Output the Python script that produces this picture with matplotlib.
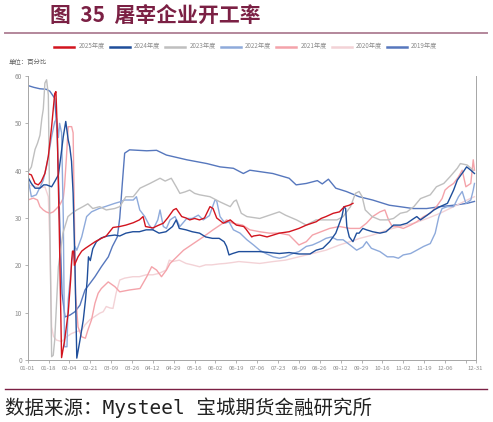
import matplotlib

matplotlib.use("Agg")
import matplotlib.pyplot as plt
from matplotlib.lines import Line2D

plt.rcParams["font.family"] = ["Noto Sans CJK SC", "DejaVu Sans"]

# ─── Data (day of year, starting 01-01 = 0; values in %) ────────────────────

TICK_DAYS = [0, 17, 34, 51, 68, 85, 102, 119, 136, 153, 170, 187, 204, 221,
             238, 255, 272, 289, 306, 323, 340, 357, 365]
TICK_LABELS = ["01-01", "01-18", "02-04", "02-21", "03-09", "03-26", "04-12",
               "04-29", "05-16", "06-02", "06-19", "07-06", "07-23", "08-09",
               "08-26", "09-12", "09-29", "10-16", "11-02", "11-19", "12-06",
               "", "12-31"]

days_2025 = [0, 3, 6, 8.6, 11, 14, 16.8, 19.5, 22, 23, 24, 25.7, 27.6, 30, 33, 35,
             35.8, 36.5, 37.5, 38, 41, 44, 47, 51, 55, 60, 64, 69.5, 75, 80, 86,
             91, 94, 96, 102, 106, 110.5, 114, 118.7, 121, 125.5, 129, 132, 136, 140,
             144, 148.5, 151, 154, 159.4, 165, 170, 176, 178, 182.5, 184, 189, 195,
             205, 213, 221, 227, 235, 239, 243, 249, 254, 258, 262, 265]
vals_2025 = [39.4, 39.1, 37.3, 37, 37.7, 39.4, 43, 49.3, 56.3, 56.7, 49.3, 28, 0.5, 4, 10, 17,
             21, 23, 23, 20, 21.8, 23, 23.6, 24.3, 25, 25.7, 26.2, 28, 28.2, 28.5, 29,
             29.6, 30.3, 28.2, 27.9, 28.4, 28.9, 30, 31.7, 32, 30.3, 30, 29.6, 29.9, 29.6,
             30, 32.4, 32, 30, 28.9, 29.6, 28.5, 28.2, 27.6, 26, 26.2, 26.4, 26,
             26.8, 27.1, 27.8, 28.5, 29.2, 29.9, 30.3, 31, 31.3, 32.4, 32.7, 33.1]

days_2024 = [0, 3, 6, 10, 13, 15.4, 19.5, 22, 25, 27, 29, 31, 33, 34.3, 35.7, 37, 38.4,
             40, 42.6, 45.3, 47, 48.5, 49.5, 51, 53, 56, 60, 65, 71, 75, 80, 85.7,
             91, 96.5, 102, 107, 112.7, 118, 121, 123.5, 129, 134, 140, 145, 150.5,
             156, 160, 162, 164, 167, 172, 181, 189, 197, 205, 213, 221, 230, 235,
             240.5, 246, 251, 256, 257.6, 259, 260, 262, 265, 268, 270, 273, 276,
             281, 287, 292, 298, 303.6, 309, 314.6, 317, 320, 325.5, 331, 336, 342,
             347, 350, 353, 355, 357.6, 361, 364]
vals_2024 = [38.7, 37.3, 36.3, 36.3, 37, 37, 36.6, 37.7, 39.1, 43, 47.2, 50.4, 46.5, 45, 42,
             35.2, 21, 0.4, 4.2, 8.5, 12.5, 17, 21.8, 21, 23.5, 25, 25.8, 26.2, 26.4,
             26.2, 26.8, 27.1, 27.1, 27.5, 27.5, 26.8, 27.1, 28.2, 29.6, 27.8, 27.5,
             27.1, 26.8, 26, 25.7, 25.7, 25, 24, 22.2, 22.5, 22.9, 22.9, 22.9, 22.7,
             22.5, 22.7, 22.4, 22.4, 23.2, 23.6, 25, 26.8, 30.3, 32.4, 32, 28.2, 26,
             25, 26.8, 26.8, 27.8, 27.5, 27.1, 26.8, 27.1, 28.5, 28.5, 28.9, 29.9,
             30.3, 29.6, 30.6, 31.7, 32.4, 33.1, 35.9, 38, 39.1, 39.8, 40.8, 40.1, 39.4]

days_2023 = [0, 3, 6, 8, 10, 11.5, 12.7, 14, 15.4, 16.8, 18, 19.5, 20.8, 22, 25, 28.7,
             32.8, 36, 40, 45, 49, 53, 58.6, 64, 70.8, 75, 80, 86, 91.5, 99.6, 107.8,
             112, 117, 121, 124, 128, 132, 136, 140, 148.5, 156.7, 165, 168, 170,
             174, 178.6, 189, 197, 205, 210, 219, 227, 235, 243, 252, 257, 263, 267,
             270, 272.5, 275, 280.6, 287, 293, 298, 303.6, 309, 314.6, 320, 328,
             333, 339, 344, 350, 352.5, 358, 363]
vals_2023 = [39.5, 40.8, 44.5, 45.8, 47.5, 51, 53, 58.5, 59.2, 56, 30, 0.7, 1, 4.2, 19.7,
             26.8, 30.3, 31, 31.7, 32.4, 33, 32, 32.4, 31.7, 32, 32.4, 34.5, 34.5,
             36.3, 37.3, 38.4, 37.8, 38.4, 36.6, 35.2, 35.5, 35.9, 35.2, 34.9, 34.5,
             33.4, 32.4, 33.5, 33.8, 31, 30.3, 29.9, 30.6, 31.3, 30.6, 29.6, 28.5,
             29.6, 29.6, 29.6, 30.3, 32.4, 35.2, 35.6, 34.5, 31.7, 30.3, 29.6, 29.6,
             29.9, 31, 31.3, 32.4, 34.1, 34.9, 36.6, 37.3, 38.7, 40.5, 41.5, 41.2, 40.1]

days_2022 = [0, 3, 7, 10, 12.7, 15.4, 16.8, 19.5, 22, 23.5, 25, 26, 27.6, 29, 30, 32,
             33, 36, 38.5, 40, 44, 48, 52, 58, 63, 71, 75, 79, 86, 88.6, 91.3, 95.4,
             99, 102, 106, 107.8, 110.5, 113, 116, 120, 124, 129.6, 134, 139, 143,
             148, 152.6, 154, 156.7, 160.8, 164, 167.6, 173, 178.6, 184, 189, 194,
             200, 205, 210, 216, 221, 227, 232, 238, 243, 247.5, 252, 257, 262.6,
             268, 273, 276, 280, 287, 293, 298, 302, 306, 312, 317, 322.6, 328, 332,
             335, 337.6, 342, 347, 351, 354, 357, 361, 363, 364]
vals_2022 = [38.7, 34.5, 34.9, 36.5, 38, 41, 43, 47.2, 50.3, 51, 47, 50, 48, 30, 2.8,
             2.8, 12.7, 21, 24, 23.2, 26, 30.3, 31.3, 32, 32.4, 33.1, 33.4, 33.8,
             33.8, 34.5, 31.7, 30.3, 28.5, 27.5, 29.6, 31.7, 28.2, 27.8, 29.6, 30.3,
             28.2, 29.9, 29.9, 30.6, 29.6, 30.5, 33.8, 33.6, 30.3, 28.9, 29.2, 27.5,
             26.8, 25.4, 24.3, 23.2, 22.5, 21.8, 21.5, 21.8, 22.5, 22.9, 24, 24.3,
             25, 25.7, 26, 25.4, 25.4, 24.3, 23.2, 23.9, 25, 23.6, 22.9, 21.8, 21.8,
             21.5, 22.2, 22.5, 23.2, 24, 24.6, 26.8, 30.3, 32, 32.4, 32.4, 34.5,
             35.6, 33.1, 33.8, 35.9, 37.3]

days_2021 = [0, 4.6, 8, 10, 12.7, 15, 18, 20.8, 23.5, 26, 29, 30, 31.6, 33, 35.8, 37,
             39, 41, 44, 47, 49, 52, 54.8, 57.4, 60, 65.6, 71, 75, 83, 91.5, 97, 101,
             105, 109, 113, 116, 121.5, 127, 135, 143, 151, 159, 162, 167, 175, 181,
             189, 197, 205, 213, 221, 227, 232, 239, 246, 254, 262.6, 270.6, 276, 281,
             287, 291, 294, 297, 301, 306, 312, 317, 322.6, 328, 333, 337.6, 340,
             343, 347, 351, 354, 357, 361, 363, 364]
vals_2021 = [33.8, 34.2, 33.8, 32.4, 31.7, 31.3, 31, 31.3, 32, 32.7, 34.2, 36.6, 43, 49.3,
             49.3, 48, 14, 7, 4.9, 4.6, 6.3, 8.5, 12, 14.1, 15.1, 16.5, 15.5, 14.4,
             14.8, 15.1, 17.6, 19.7, 19, 17.6, 19, 20.4, 21.8, 23.2, 24.6, 26, 27.5,
             28.9, 29.6, 28.9, 28.5, 27.5, 27.1, 26.8, 26.8, 26.4, 24.3, 25, 26.4,
             27.1, 27.8, 28.2, 27.8, 27.8, 28.9, 30.3, 31.3, 31.7, 29.6, 28.2, 28.2,
             27.8, 28.5, 29.2, 30.3, 31, 32.4, 34.1, 35.9, 36.6, 37.3, 38.7, 40.1,
             36.6, 37.3, 42.3, 40.1]

days_2020 = [0, 7, 10, 14, 16.8, 18, 19.5, 21, 23.5, 27.6, 31.7, 35.8, 39.8, 44, 46.6,
             50.6, 54.7, 58.8, 61.5, 64, 67, 69.5, 72, 75, 79, 85.7, 91, 96.5, 102,
             107, 112.7, 115.4, 118, 123.5, 129, 134, 140, 145, 150, 156, 161, 167,
             172, 189, 200, 210, 221, 232, 243, 254, 262.6, 270.6, 281, 293, 303.6,
             314.6, 325.5, 336, 347, 358, 364]
vals_2020 = [37, 36.6, 36.4, 36.6, 34.5, 25, 7, 5, 4.2, 3.9, 4.9, 5.6, 6, 6.3, 7.4, 8.5,
             9.2, 9.9, 10.2, 11.3, 11, 10.9, 14.1, 16.9, 17.3, 17.6, 17.6, 18, 18,
             18.3, 19, 21.1, 20.8, 21.1, 20.4, 20.1, 19.7, 20.1, 20.1, 20.3, 20.4,
             20.6, 20.8, 20.4, 20.8, 21.1, 21.8, 22.5, 23.2, 24.3, 25, 25.7, 26.4,
             27.5, 28.2, 28.9, 29.9, 31, 32.4, 33.8, 34.5]

days_2019 = [0, 5, 10, 15, 18, 22, 24, 26, 28, 30.4, 34.5, 38.5, 42.6, 46.7, 50.8,
             54.8, 60, 65.7, 69, 73, 75, 77, 79, 83, 97, 105, 113, 129.6, 146, 156.7,
             167.6, 175.7, 181, 189, 199.7, 213, 218.7, 227, 236, 240, 245, 251,
             259.6, 270, 281, 294.6, 303, 314, 325, 336, 347, 358, 364]
vals_2019 = [58, 57.6, 57.3, 57.2, 56.8, 55.3, 48, 30, 14, 9.1, 9.5, 10.2, 11.6, 14.8, 16.2,
             17.6, 19.7, 21.8, 24, 26, 30, 37, 43.7, 44.4, 44.2, 44.3, 43.3, 42.3, 41.5,
             40.8, 40.5, 39.4, 40.1, 39.8, 39.4, 38.4, 37, 37.3, 37.9, 37.2, 38.2,
             36.3, 35.6, 34.5, 33.8, 32.7, 32.4, 32, 32, 32.4, 32.7, 33.1, 33.5]

SERIES = [
    ("2025年度", days_2025, vals_2025, "#d2141e"),
    ("2024年度", days_2024, vals_2024, "#1f4e9b"),
    ("2023年度", days_2023, vals_2023, "#bfbfbf"),
    ("2022年度", days_2022, vals_2022, "#8eaadb"),
    ("2021年度", days_2021, vals_2021, "#f4a3aa"),
    ("2020年度", days_2020, vals_2020, "#f3d2d6"),
    ("2019年度", days_2019, vals_2019, "#5677bd"),
]

W, H = 493, 422
GREY = "#8c8c8c"
AXIS_GREY = "#a6a6a6"
MAROON = "#7b2044"


def fx(px):
    return px / W


def fy(py):
    return 1.0 - py / H


fig = plt.figure(figsize=(W / 100, H / 100), dpi=100, facecolor="white")
ax = fig.add_axes([fx(27.7), fy(360), fx(475.7) - fx(27.7), fy(76) - fy(360)])

handles = []
for label, d, v, color in reversed(SERIES):
    ax.plot(d, v, color=color, lw=1.0, solid_joinstyle="round")
for label, d, v, color in SERIES:
    handles.append(Line2D([], [], color=color, lw=1.8, label=label))

ax.set_xlim(0, 365)
ax.set_ylim(0, 60)
ax.set_yticks(range(0, 61, 10))
ax.set_xticks(TICK_DAYS)
ax.set_xticklabels(TICK_LABELS)
ax.tick_params(axis="both", direction="out", length=2.5, width=0.6,
               color=AXIS_GREY, labelcolor=GREY)
ax.tick_params(axis="x", labelsize=4.3, pad=2)
ax.tick_params(axis="y", labelsize=4.6, pad=1.5)
ax.spines["top"].set_visible(False)
for side in ("left", "bottom", "right"):
    ax.spines[side].set_color(AXIS_GREY)
    ax.spines[side].set_linewidth(0.7)

fig.legend(handles=handles, loc="center", bbox_to_anchor=(fx(246), fy(46.7)),
           ncol=7, frameon=False, fontsize=4.5, labelcolor=GREY,
           handlelength=3.2, handletextpad=0.7, columnspacing=0.75)

# title and rules
fig.text(fx(50), fy(15), "图  35  屠宰企业开工率", fontsize=15, fontweight="bold",
         color=MAROON, ha="left", va="center")
fig.add_artist(Line2D([fx(5), fx(487)], [fy(32.7), fy(32.7)], color="#b3879b", lw=1.4))
fig.text(fx(9), fy(62), "单位：百分比", fontsize=4.6, color="#606060",
         ha="left", va="center")
fig.add_artist(Line2D([fx(5), fx(487)], [fy(389.3), fy(389.3)], color=MAROON, lw=1.0))
fig.text(fx(5), fy(408), "数据来源：Mysteel 宝城期货金融研究所", fontsize=14,
         family=["DejaVu Sans Mono", "Noto Sans CJK SC"], color="#222222",
         ha="left", va="center")

fig.savefig("out.png", dpi=100, facecolor="white")
